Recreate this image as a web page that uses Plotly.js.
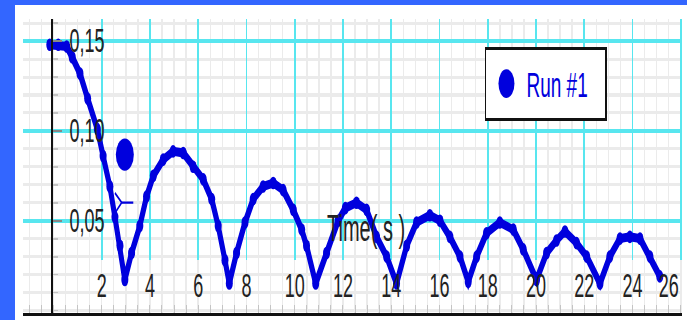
<!DOCTYPE html>
<html>
<head>
<meta charset="utf-8">
<script src="https://cdn.plot.ly/plotly-3.0.1.min.js"></script>
<style>
  html, body { margin:0; padding:0; background:#3366ff; width:687px; height:320px; overflow:hidden; }
  #wrap { position:absolute; left:15px; top:5px; width:672px; height:315px; background:#ffffff; overflow:hidden; }
  #plot { width:672px; height:175px; transform:scaleY(1.8); transform-origin:0 0; }
</style>
</head>
<body>
<div id="wrap"><div id="plot"></div></div>
<script>
// Run #1 : time (s) and position values
const timeS = [-0.15, 0.2, 0.55, 0.78, 1.10, 1.42, 1.82, 2.06, 2.34, 2.55, 2.76, 2.96,
  3.24, 3.58, 3.86, 4.14, 4.55, 4.96, 5.38, 5.79, 6.21, 6.56, 6.83, 7.11, 7.29,
  7.59, 7.94, 8.28, 8.69, 9.11, 9.52, 9.94, 10.29, 10.49, 10.87,
  11.32, 11.80, 12.10, 12.56, 12.98, 13.39, 13.81, 14.22,
  14.64, 15.05, 15.60, 16.02, 16.43, 16.85, 17.19,
  17.54, 17.95, 18.50, 19.06, 19.47, 20.02,
  20.44, 20.85, 21.20, 21.68, 22.10, 22.65,
  23.06, 23.48, 23.89, 24.31, 24.72, 25.13];
const run1 = [0.148, 0.148, 0.147, 0.141, 0.132, 0.118, 0.101, 0.086, 0.069, 0.052, 0.036, 0.017,
  0.032, 0.047, 0.0635, 0.075, 0.084, 0.0886, 0.0877, 0.080, 0.073, 0.062, 0.047, 0.028, 0.015,
  0.032, 0.049, 0.062, 0.069, 0.071, 0.067, 0.056, 0.045, 0.036, 0.015,
  0.032, 0.050, 0.057, 0.060, 0.056, 0.041, 0.030, 0.015,
  0.036, 0.049, 0.053, 0.050, 0.041, 0.030, 0.016,
  0.030, 0.043, 0.049, 0.045, 0.034, 0.017,
  0.032, 0.039, 0.044, 0.0375, 0.030, 0.015,
  0.030, 0.040, 0.041, 0.040, 0.030, 0.019];
// highlighted point and cursor glyph
const dotTime = [2.96];
const dotValue = [0.0868];
const cursorTime = [2.55, 2.83, 2.55, null, 2.83, 3.31];
const cursorValue = [0.0654, 0.0601, 0.0542, null, 0.0601, 0.0601];
// axis ticks (grid positions) and tick-label positions (last label sits just inside the edge)
const xTickVals = [2, 4, 6, 8, 10, 12, 14, 16, 18, 20, 22, 24, 26];
const xLabelPos = [2, 4, 6, 8, 10, 12, 14, 16, 18, 20, 22, 24, 25.5];
const xTickText = ['2','4','6','8','10','12','14','16','18','20','22','24','26'];
const yTickVals = [0.05, 0.10, 0.15];
const yTickText = ['0,05', '0,10', '0,15'];
const seriesName = 'Run #1';
const xLabel = 'Time( s )';

const BLUE = '#0000dd';
const CYAN = '#58e6ef';
const MINOR = '#ebebeb';
const XR = [-1.26, 26.05];
const YR = [-0.0013, 0.1621];
const FONT = '"Liberation Sans", Arial, sans-serif';

const traces = [
  { x: [], y: [], xaxis: 'x', yaxis: 'y', showlegend: false, hoverinfo: 'skip' },
  { x: [], y: [], xaxis: 'x2', yaxis: 'y2', showlegend: false, hoverinfo: 'skip' },
  { x: timeS, y: run1, xaxis: 'x3', yaxis: 'y3', mode: 'lines+markers', name: seriesName,
    showlegend: false, line: { color: BLUE, width: 5 }, marker: { color: BLUE, size: 7 } },
  { x: cursorTime, y: cursorValue, xaxis: 'x3', yaxis: 'y3', mode: 'lines', showlegend: false,
    line: { color: BLUE, width: 1.3 }, hoverinfo: 'skip' },
  { x: dotTime, y: dotValue, xaxis: 'x3', yaxis: 'y3', mode: 'markers', name: seriesName,
    showlegend: true, marker: { color: BLUE, size: 18 } }
];

const hidden = { showticklabels: false, ticks: '', showline: false, zeroline: false, fixedrange: true };

const layout = {
  width: 672, height: 175,
  margin: { l: 8, r: 5, t: 8, b: 4, autoexpand: false },
  paper_bgcolor: '#ffffff', plot_bgcolor: 'rgba(0,0,0,0)',
  font: { family: FONT, color: '#222' },
  showlegend: true,
  legend: {
    x: 0.701, y: 0.906, xanchor: 'left', yanchor: 'top',
    orientation: 'h', entrywidth: 74, entrywidthmode: 'pixels',
    bgcolor: '#ffffff', bordercolor: '#111', borderwidth: 1.5,
    font: { family: FONT, size: 19, color: BLUE }
  },
  // layer 1: light grey minor grid
  xaxis: Object.assign({ range: XR, domain: [0, 1], anchor: 'y', tickmode: 'linear', tick0: 0, dtick: 0.5,
    showgrid: true, gridcolor: MINOR, gridwidth: 1.5 }, hidden),
  yaxis: Object.assign({ range: YR, domain: [0, 1], anchor: 'x', tickmode: 'linear', tick0: 0, dtick: 0.01,
    showgrid: true, gridcolor: MINOR, gridwidth: 1.7 }, hidden),
  // layer 2: vertical cyan major grid (stops above the tick-label band)
  xaxis2: Object.assign({ range: XR, domain: [0, 1], anchor: 'y2', tickmode: 'array', tickvals: xTickVals,
    showgrid: true, gridcolor: CYAN, gridwidth: 1.9 }, hidden),
  yaxis2: { range: [0, 1], domain: [0.181, 1], anchor: 'x2', visible: false, fixedrange: true },
  // layer 3: main axes, horizontal cyan grid, data
  xaxis3: { range: XR, domain: [0, 1], anchor: 'y3', tickmode: 'array', tickvals: xLabelPos, ticktext: xTickText,
    showgrid: false, zeroline: false, showline: true, linecolor: '#111', linewidth: 1.6,
    ticks: '', ticklabelposition: 'outside', ticklabelstandoff: -32, ticklabeloverflow: 'allow',
    tickfont: { family: FONT, size: 18, color: '#222' },
    minor: { tickmode: 'linear', tick0: 0, dtick: 0.5, showgrid: false,
      ticks: 'inside', ticklen: 4.5, tickcolor: '#c4c4c4' },
    fixedrange: true },
  yaxis3: { range: YR, domain: [0, 1], anchor: 'free', position: 0.0425, tickmode: 'array',
    tickvals: yTickVals, ticktext: yTickText,
    showgrid: true, gridcolor: CYAN, gridwidth: 2.2, zeroline: false,
    showline: true, linecolor: '#111', linewidth: 1.5,
    ticks: 'inside', ticklen: 9, tickcolor: '#888',
    ticklabelposition: 'outside', ticklabelstandoff: -57, ticklabeloverflow: 'allow',
    tickfont: { family: FONT, size: 18, color: '#222' },
    minor: { tickmode: 'linear', tick0: 0, dtick: 0.01, showgrid: false,
      ticks: 'inside', ticklen: 5, tickcolor: '#c4c4c4' },
    fixedrange: true },
  annotations: [
    { text: xLabel, xref: 'paper', yref: 'paper', x: 0.52, y: 0.289, xanchor: 'center', yanchor: 'middle',
      showarrow: false, font: { family: FONT, size: 20, color: '#222' } }
  ]
};

Plotly.newPlot('plot', traces, layout, { displayModeBar: false, staticPlot: true });
</script>
</body>
</html>
